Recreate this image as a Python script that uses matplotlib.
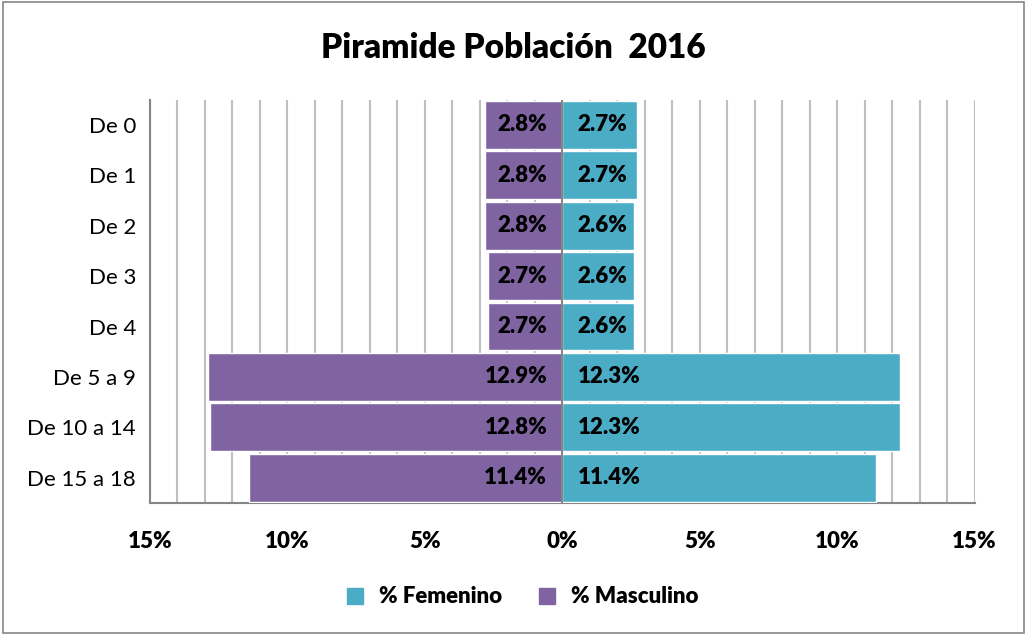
import matplotlib.pyplot as plt
from matplotlib.patches import Rectangle
from matplotlib.ticker import MultipleLocator, FuncFormatter

# data
categorias = ["De 0", "De 1", "De 2", "De 3", "De 4", "De 5 a 9", "De 10 a 14", "De 15 a 18"]
masculino = [2.8, 2.8, 2.8, 2.7, 2.7, 12.9, 12.8, 11.4]
femenino = [2.7, 2.7, 2.6, 2.6, 2.6, 12.3, 12.3, 11.4]

purple = "#8064A2"
blue = "#4BACC6"
grid_col = "#BFBFBF"

plt.rcParams['font.family'] = ['Lato', 'DejaVu Sans']

fig = plt.figure(figsize=(10.27, 6.35), dpi=100)
ax = fig.add_axes([0.146, 0.208, 0.803, 0.635])

y = list(range(len(categorias)))
ax.barh(y, [-m for m in masculino], height=0.95, color=purple, edgecolor="white", linewidth=1, zorder=3)
ax.barh(y, femenino, height=0.95, color=blue, edgecolor="white", linewidth=1, zorder=3)

for i in y:
    ax.text(-0.55, i, f"{masculino[i]:.1f}%", ha="right", va="center",
            fontsize=16, fontweight="heavy", color="black", zorder=4)
    ax.text(0.55, i, f"{femenino[i]:.1f}%", ha="left", va="center",
            fontsize=16, fontweight="heavy", color="black", zorder=4)

ax.set_xlim(-15, 15)
ax.set_ylim(len(categorias) - 0.5, -0.5)
ax.set_yticks(y)
ax.set_yticklabels(categorias, fontsize=16)
ax.xaxis.set_major_locator(MultipleLocator(5))
ax.xaxis.set_minor_locator(MultipleLocator(1))
ax.xaxis.set_major_formatter(FuncFormatter(lambda v, p: f"{abs(v):.0f}%"))
for lab in ax.get_xticklabels():
    lab.set_fontweight("heavy")
    lab.set_fontsize(16)
ax.tick_params(axis="x", which="both", length=0, pad=20)
ax.tick_params(axis="y", length=0, pad=10)

ax.grid(axis="x", which="both", color=grid_col, linewidth=1.5, zorder=0)
ax.axvline(0, color="#868686", linewidth=1.5, zorder=5)

for s in ["top", "right"]:
    ax.spines[s].set_visible(False)
for s in ["left", "bottom"]:
    ax.spines[s].set_color("#868686")
    ax.spines[s].set_linewidth(1.5)

fig.text(0.5, 0.925, "Piramide Población  2016", ha="center", va="center",
         fontsize=24, fontweight="heavy")

h1 = plt.Line2D([], [], marker="s", linestyle="none", color=blue, markersize=12)
h2 = plt.Line2D([], [], marker="s", linestyle="none", color=purple, markersize=12)
fig.legend([h1, h2], ["% Femenino", "% Masculino"], loc="center", bbox_to_anchor=(0.502, 0.06),
           ncol=2, frameon=False, prop={"weight": "heavy", "size": 16},
           handletextpad=0.1, columnspacing=1.0)

fig.add_artist(Rectangle((0.003, 0.003), 0.994, 0.994, transform=fig.transFigure,
                         fill=False, edgecolor="#868686", linewidth=1.2))

fig.savefig("out.png", dpi=100)
